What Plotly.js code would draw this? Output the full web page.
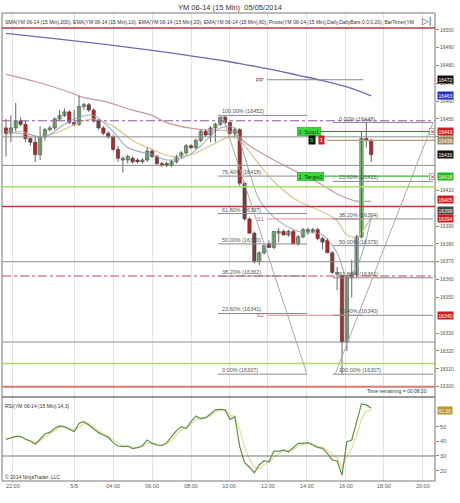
<!DOCTYPE html>
<html><head><meta charset="utf-8">
<script src="https://cdn.plot.ly/plotly-3.0.1.min.js"></script>
<style>html,body{margin:0;padding:0;background:#fff}#chart{width:460px;height:503px}</style>
</head><body><div id="chart"></div>
<script>
// YM 06-14, 15 minute bars
const opens  = [16445,16442,16445,16449,16447,16439,16437,16430,16440,16444,16445,16450,16452,16454,16448,16447,16457,16458,16455,16449,16445,16442,16440,16433,16427,16427,16428,16427,16426,16427,16432,16429,16425,16425,16424,16426,16429,16431,16435,16434,16438,16443,16441,16445,16447,16451,16448,16442,16444,16414,16394,16386,16370,16375,16380,16378,16386,16387,16385,16387,16380,16384,16387,16387,16388,16383,16382,16375,16363,16362,16325,16361,16363,16384,16439,16438];
const highs  = [16450,16452,16459,16451,16449,16440,16440,16446,16445,16446,16451,16455,16456,16455,16455,16463,16459,16459,16456,16450,16446,16443,16441,16435,16429,16430,16429,16428,16428,16434,16433,16430,16426,16426,16427,16430,16432,16436,16436,16439,16444,16444,16446,16448,16451,16452,16449,16445,16445,16415,16395,16387,16376,16380,16382,16387,16389,16388,16388,16388,16385,16389,16389,16389,16389,16384,16383,16376,16367,16363,16362,16371,16385,16443,16448,16439];
const lows   = [16429,16437,16443,16446,16437,16435,16426,16427,16438,16443,16444,16449,16451,16447,16446,16446,16455,16454,16448,16444,16441,16439,16432,16426,16420,16425,16425,16425,16425,16426,16428,16424,16423,16423,16423,16425,16428,16430,16433,16433,16437,16440,16437,16437,16446,16447,16441,16440,16412,16393,16386,16369,16368,16374,16378,16377,16381,16385,16384,16380,16379,16383,16385,16386,16382,16377,16375,16363,16354,16307,16320,16350,16361,16383,16434,16426];
const closes = [16442,16445,16449,16447,16439,16437,16430,16440,16444,16445,16450,16452,16454,16448,16447,16457,16458,16455,16449,16445,16442,16440,16433,16428,16428,16429,16426,16426,16427,16432,16429,16425,16424,16424,16426,16429,16431,16435,16434,16438,16443,16441,16445,16447,16451,16448,16442,16444,16414,16394,16386,16370,16375,16379,16378,16387,16387,16385,16387,16380,16384,16388,16388,16388,16383,16381,16375,16364,16364,16325,16361,16363,16384,16439,16438,16430];

// moving averages, sampled at bar numbers
const sma200Bars = [0,10,20,30,40,45,50,55,60,65,70,75];
const sma200     = [16498,16495,16492,16488.5,16484.5,16482.5,16480,16477.5,16474.5,16471.5,16468,16463];
const ema60Bars  = [0,6,13,16,20,26,30,33,40,46,50,55,60,65,68,72,75];
const ema60      = [16475,16471,16465,16462,16460,16455,16452,16448,16444,16443,16435,16427,16420,16413,16408,16404,16404];
const ema20Bars  = [0,3,7,11,15,18,22,26,30,34,38,42,46,48,51,55,60,65,68,70,72,75];
const ema20      = [16441,16443,16440,16443,16448,16450,16446,16438,16433,16429,16430,16435,16440,16438,16428,16415,16404,16398,16393,16385,16384,16395];
const ema10Bars  = [0,5,8,12,15,18,22,25,30,33,37,40,44,47,48,50,52,55,60,65,68,70,72,75];
const ema10      = [16443,16441,16440,16447,16451,16452,16443,16434,16430,16427,16429,16435,16445,16445,16438,16420,16405,16395,16387,16385,16375,16362,16367,16395];

// RSI(14,3) and its average
const rsi    = [41.4,42.3,43.4,43.4,41.4,40.2,38,41.4,45,46.1,48.9,50.5,50,48.2,46.6,52.3,53.4,51.1,48.4,45.9,44.3,42.7,39.1,36.8,36.4,36.8,35,35.7,37,40.9,38.6,37.5,37,39.1,43.2,47.3,50,48.9,53.4,57.3,55.5,56.1,58.6,61.4,61.8,61.4,55,56.8,36.4,25.5,22.3,18.6,23.9,26.8,26.1,33.4,33.2,34.1,32.7,35.9,38.6,38.6,39.1,37.5,35.9,35.2,31.8,27.3,26.6,17,39.8,40.9,52.3,65.5,64.8,62.5];
const rsiAvg = [41,42,43,43,42,40.5,39,40,43,45,47.5,49.5,50,49,47.5,49.5,52,52,49.5,47,45,43.5,41,38.5,37,36.8,36,35.8,36.3,38.5,39,38.2,37.5,38,40.5,44.5,48,49,51.5,54.5,55.5,56,57.5,60,61.5,61.5,58,57,48,36,28,22.5,21.5,24,25.5,29,31.5,33.5,33.5,34.5,36.5,38,38.8,38.2,37,36,34,31,28.5,22,30,35,44,55,61,61];

// axes
const timeTickBars   = [1.4,14,22,30,38,45.8,53.8,61.8,69.8,77.6,85.6];
const timeTickLabels = ['22:00','5/5','04:00','06:00','08:00','10:00','12:00','14:00','16:00','18:00','20:00'];
const priceTicks = [16300,16310,16320,16330,16350,16360,16370,16380,16390,16410,16440,16450,16460,16470,16480,16490,16500];
const rsiTicks = [20,30,40,50];

// horizontal levels across the whole panel
const levelPrices = [16501,16449,16440,16424,16412,16401,16370,16362,16325,16313,16300];
const levelStyles = [
  ['#b8393b',1.5,'solid'],['#8a5a9a',1,'dashdot'],['#8c8c8c',1,'solid'],['#8c8c8c',1,'solid'],
  ['#a8e060',1.5,'solid'],['#b8393b',1.5,'solid'],['#8c8c8c',1,'solid'],['#c8406a',1,'dashdot'],
  ['#8c8c8c',1,'solid'],['#a8e060',1.5,'solid'],['#d87a7a',2,'solid']];

// daily pivots
const pivotNames  = ['PP','S1','S2'];
const pivotPrices = [16472,16394,16340];

// fibonacci retracements
const fibPct       = ['100.00%','76.40%','61.80%','50.00%','38.20%','23.60%','0.00%'];
const leftFibVals  = [16452,16418,16397,16380,16362,16341,16307];
const rightFibPct  = ['0.00%','23.60%','38.20%','50.00%','61.80%','76.40%','100.00%'];
const rightFibVals = [16448,16415,16394,16379,16361,16340,16307];

// price markers on the axis
const markerPrices = [16472,16463,16443,16438,16430,16418,16405,16399,16394,16340];
const markerColors = ['#111','#2233bb','#cc2020','#a08a64','#111','#22b822','#cc2020','#444','#cc2020','#cc2020'];

// working orders
const orderPrices = [16443,16418];
const orderLabels = ['1  Stop1','1  Target1'];
const positionPrice = 16438;
const lastRsiAvg = rsiAvg[rsiAvg.length-1];

const W = 460, H = 503;
const px = x => x / W;
const py = y => 1 - y / H;
const bars = closes.map((_, i) => i);
const font = 'Liberation Sans, Arial, sans-serif';

// candle bodies and wicks
const bodyBase = opens.map((o, i) => Math.min(o, closes[i]));
const bodyLen  = opens.map((o, i) => Math.max(Math.abs(closes[i] - o), 0.6));
const bodyCol  = opens.map((o, i) => closes[i] >= o ? '#86d686' : '#c61c1c');
const wickX = [], wickY = [];
bars.forEach(i => { wickX.push(i, i, null); wickY.push(lows[i], highs[i], null); });

const traces = [
  {type:'scatter', x:sma200Bars, y:sma200, mode:'lines', line:{color:'#6c6cae', width:1.3, shape:'spline'}, hoverinfo:'skip'},
  {type:'scatter', x:ema60Bars, y:ema60, mode:'lines', line:{color:'#c99a9a', width:1.2, shape:'spline'}, hoverinfo:'skip'},
  {type:'scatter', x:ema20Bars, y:ema20, mode:'lines', line:{color:'#dcc48e', width:1.2, shape:'spline'}, hoverinfo:'skip'},
  {type:'scatter', x:ema10Bars, y:ema10, mode:'lines', line:{color:'#9fb0c6', width:1.1, shape:'spline'}, hoverinfo:'skip'},
  {type:'scatter', x:wickX, y:wickY, mode:'lines', line:{color:'#555', width:0.9}, hoverinfo:'skip', connectgaps:false},
  {type:'bar', x:bars, y:bodyLen, base:bodyBase, width:0.68, marker:{color:bodyCol, line:{color:'#3a3a3a', width:0.6}}, hoverinfo:'skip'},
  {type:'scatter', x:bars, y:rsiAvg, yaxis:'y2', mode:'lines', line:{color:'#e6dc98', width:1.2}, hoverinfo:'skip'},
  {type:'scatter', x:bars, y:rsi, yaxis:'y2', mode:'lines', line:{color:'#5f8f48', width:1.2}, hoverinfo:'skip'}
];

const shapes = [];
const annotations = [];
const xL = 2, xR = 435;

// panels
shapes.push({type:'rect', xref:'paper', yref:'paper', x0:px(xL), x1:px(xR), y0:py(397), y1:py(13), line:{color:'#777', width:1}});
shapes.push({type:'rect', xref:'paper', yref:'paper', x0:px(xL), x1:px(xR), y0:py(481), y1:py(397), line:{color:'#777', width:1}});

levelPrices.forEach((p, i) => {
  const [c, w, d] = levelStyles[i];
  shapes.push({type:'line', xref:'paper', yref:'y', x0:px(xL), x1:px(xR), y0:p, y1:p, line:{color:c, width:w, dash:d}});
});

// RSI 30 line
shapes.push({type:'line', xref:'paper', yref:'y2', x0:px(xL), x1:px(xR), y0:30, y1:30, line:{color:'#777', width:1}});

// pivots
pivotPrices.forEach((p, i) => {
  const c = i === 0 ? '#888' : '#e08a8a';
  shapes.push({type:'line', xref:'x', yref:'y', x0:53.6, x1:73.4, y0:p, y1:p, line:{color:c, width:1}});
  annotations.push({xref:'x', yref:'y', x:53.4, y:p, text:pivotNames[i], showarrow:false, xanchor:'right', yanchor:'middle',
    font:{family:font, size:5.5, color: i === 0 ? '#444' : '#c05050'}});
});

// fibonacci levels
leftFibVals.forEach((p, i) => {
  shapes.push({type:'line', xref:'x', yref:'y', x0:43.5, x1:61.8, y0:p, y1:p, line:{color:'#8a8a8a', width:1}});
  annotations.push({xref:'x', yref:'y', x:43.9, y:p, text:fibPct[i] + ' (' + p + ')', showarrow:false, xanchor:'left', yanchor:'bottom',
    font:{family:font, size:5.5, color:'#555'}, yshift:-1});
});
rightFibVals.forEach((p, i) => {
  shapes.push({type:'line', xref:'x', yref:'y', x0:67.1, x1:87.7, y0:p, y1:p, line:{color:'#8a8a8a', width:1}});
  annotations.push({xref:'x', yref:'y', x:67.9, y:p, text:rightFibPct[i] + ' (' + p + ')', showarrow:false, xanchor:'left', yanchor:'bottom',
    font:{family:font, size:5.5, color:'#555'}, yshift:-1});
});
// fib anchor lines
shapes.push({type:'line', xref:'x', yref:'y', x0:44.4, x1:61.8, y0:leftFibVals[0], y1:leftFibVals[6], line:{color:'#aaa', width:1}});
shapes.push({type:'line', xref:'x', yref:'y', x0:67.6, x1:87.7, y0:rightFibVals[6], y1:rightFibVals[0], line:{color:'#aaa', width:1}});

// working orders and position
const orderColors = ['#cc3030','#33bb33'];
orderPrices.forEach((p, i) => {
  shapes.push({type:'line', xref:'x', yref:'y', x0:59.8, x1:87.6, y0:p, y1:p, line:{color:orderColors[i], width:1.2}});
  annotations.push({xref:'x', yref:'y', x:59.8, y:p, text:orderLabels[i], showarrow:false, xanchor:'left', yanchor:'middle',
    bgcolor:'#3bd83b', bordercolor:'#2a9a2a', borderwidth:0.5, borderpad:1, font:{family:font, size:5.5, color:'#0b3b0b'}});
  annotations.push({xref:'paper', yref:'y', x:px(432), y:p, text:'✕', showarrow:false, xanchor:'center', yanchor:'middle',
    bgcolor:'#fff', bordercolor:'#888', borderwidth:0.6, borderpad:0, font:{family:font, size:6, color:'#cc3030'}});
});
shapes.push({type:'line', xref:'x', yref:'y', x0:65.9, x1:88.1, y0:positionPrice, y1:positionPrice, line:{color:'#b09a70', width:1.2}});
annotations.push({xref:'x', yref:'y', x:62.0, y:positionPrice, text:'<b>S</b>', showarrow:false, xanchor:'left', yanchor:'middle',
  bgcolor:'#111', borderpad:1, font:{family:font, size:5, color:'#3c3'}});
annotations.push({xref:'x', yref:'y', x:64.0, y:positionPrice, text:'<b>1</b>', showarrow:false, xanchor:'left', yanchor:'middle',
  bgcolor:'#cc2020', borderpad:1, font:{family:font, size:5, color:'#fff'}});

// price markers on the axis
markerPrices.forEach((p, i) => {
  annotations.push({xref:'paper', yref:'y', x:px(437), y:p, text:String(p), showarrow:false, xanchor:'left', yanchor:'middle',
    bgcolor:markerColors[i], borderpad:0.5, font:{family:font, size:5, color:'#fff'}});
});
annotations.push({xref:'paper', yref:'y2', x:px(437), y:lastRsiAvg, text:lastRsiAvg.toFixed(2), showarrow:false, xanchor:'left', yanchor:'middle',
  bgcolor:'#b8962c', borderpad:0.5, font:{family:font, size:5, color:'#fff'}});

// texts
annotations.push({xref:'paper', yref:'paper', x:0.5, y:py(8), text:'YM 06-14 (15 Min)  05/05/2014', showarrow:false,
  xanchor:'center', yanchor:'middle', font:{family:font, size:7.5, color:'#333'}});
annotations.push({xref:'paper', yref:'paper', x:px(3), y:py(22), showarrow:false, xanchor:'left', yanchor:'middle',
  text:'SMA(YM 06-14 (15 Min),200), EMA(YM 06-14 (15 Min),10), EMA(YM 06-14 (15 Min),20), EMA(YM 06-14 (15 Min),60), Pivots(YM 06-14 (15 Min),Daily,DailyBars,0,0,0,20), BarTimer(YM',
  font:{family:font, size:5, color:'#333'}});
annotations.push({xref:'paper', yref:'paper', x:px(426), y:py(21), text:'▷|', showarrow:false, xanchor:'center', yanchor:'middle',
  font:{family:font, size:9, color:'#444'}});
annotations.push({xref:'paper', yref:'paper', x:px(3), y:py(406), text:'RSI(YM 06-14 (15 Min),14,3)', showarrow:false,
  xanchor:'left', yanchor:'middle', font:{family:font, size:5, color:'#333'}});
annotations.push({xref:'paper', yref:'paper', x:px(3), y:py(477), text:'© 2014 NinjaTrader, LLC', showarrow:false,
  xanchor:'left', yanchor:'middle', font:{family:font, size:5, color:'#333'}});
annotations.push({xref:'paper', yref:'paper', x:px(429), y:py(391), text:'Time remaining = 00:08:20', showarrow:false,
  xanchor:'right', yanchor:'middle', font:{family:font, size:5, color:'#333'}});

const axisFont = {family:font, size:5.5, color:'#555'};
const layout = {
  width:W, height:H, margin:{l:0, r:0, t:0, b:0}, paper_bgcolor:'#fff', plot_bgcolor:'#fff', showlegend:false, bargap:0,
  xaxis:{domain:[px(xL), px(xR)], range:[-0.82, 88.1], anchor:'y2', tickmode:'array', tickvals:timeTickBars, ticktext:timeTickLabels,
    tickfont:axisFont, showgrid:true, gridcolor:'#e4e4e4', gridwidth:1, zeroline:false, showline:false, ticks:'', fixedrange:true},
  yaxis:{domain:[py(397), py(13)], range:[16294.2, 16509.4], side:'right', anchor:'x', tickmode:'array', tickvals:priceTicks,
    tickformat:'d', tickfont:{family:font, size:5, color:'#555'}, showgrid:false, zeroline:false, ticks:'outside', ticklen:3, tickcolor:'#888', showline:false},
  yaxis2:{domain:[py(481), py(397)], range:[12.96, 70.2], side:'right', anchor:'x', tickmode:'array', tickvals:rsiTicks, tickfont:axisFont,
    showgrid:false, zeroline:false, ticks:'outside', ticklen:3, tickcolor:'#888', showline:false},
  shapes:shapes, annotations:annotations
};
Plotly.newPlot('chart', traces, layout, {staticPlot:true, displayModeBar:false});
</script></body></html>
